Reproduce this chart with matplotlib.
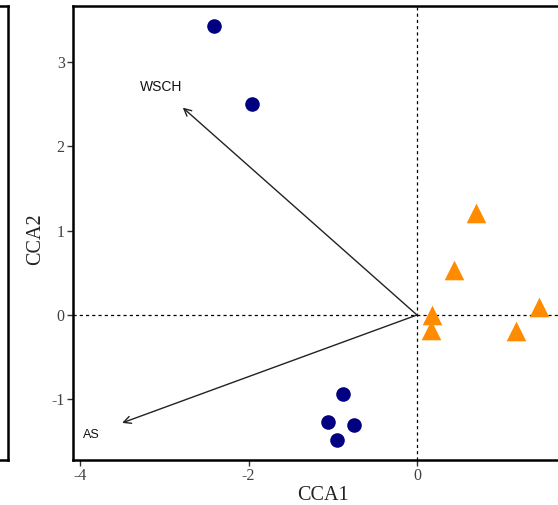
import matplotlib
matplotlib.use("Agg")
import matplotlib.pyplot as plt

# Site scores
blue_x = [-2.41, -1.96, -0.88, -1.06, -0.75, -0.95]
blue_y = [3.43, 2.50, -0.94, -1.27, -1.30, -1.48]
orange_x = [0.70, 0.44, 0.18, 0.17, 1.17, 1.45]
orange_y = [1.21, 0.53, 0.00, -0.18, -0.19, 0.09]

# Environmental arrows
env_names = ["WSCH", "AS"]
env_x = [-2.78, -3.50]
env_y = [2.46, -1.28]
label_x = [-3.04, -3.87]
label_y = [2.70, -1.42]
label_size = [10, 9]

xticks = [-4, -2, 0]
yticks = [-1, 0, 1, 2, 3]

W, H = 558, 505
fig = plt.figure(figsize=(W / 100, H / 100), dpi=100)

# remnant of neighbouring panel on the left
axl = fig.add_axes([-0.5, 1 - 460 / H, 0.5 + 8 / W, (460 - 6) / H])
axl.set_xticks([]); axl.set_yticks([])
for s in axl.spines.values():
    s.set_linewidth(1.8)

left = 73 / W
right = 590 / W
ax = fig.add_axes([left, 1 - 460 / H, right - left, (460 - 6) / H])
px_per_unit = 84.25
ax.set_xlim(-4 - 7 / px_per_unit, (590 - 417) / px_per_unit)
ax.set_ylim(-(460 - 315) / 84.3, (315 - 6) / 84.3)

ax.axhline(0, color="black", lw=0.9, ls=(0, (2.5, 2.5)), zorder=1)
ax.axvline(0, color="black", lw=0.9, ls=(0, (2.5, 2.5)), zorder=1)

for name, x, y, lx, ly, fs in zip(env_names, env_x, env_y, label_x, label_y, label_size):
    ax.annotate("", xy=(x, y), xytext=(0, 0),
                arrowprops=dict(arrowstyle="->", color="#222222", lw=1.0,
                                shrinkA=0, shrinkB=0, mutation_scale=13),
                zorder=2)
    ax.text(lx, ly, name, fontsize=fs, family="Liberation Sans", color="#111111",
            ha="center", va="center")

ax.scatter(blue_x, blue_y, s=110, color="#000080", marker="o", zorder=3,
           linewidths=0)
ax.scatter(orange_x, orange_y, s=200, color="#FF8C00", marker="^", zorder=3,
           linewidths=0)

ax.set_xticks(xticks)
ax.set_yticks(yticks)
ax.set_xticklabels([str(t) for t in xticks])
ax.set_yticklabels([str(t) for t in yticks])
ax.tick_params(direction="out", length=4, width=1, color="#333333",
               labelsize=11.5, labelcolor="#404040", pad=2)
for lab in ax.get_xticklabels() + ax.get_yticklabels():
    lab.set_family("Liberation Serif")

ax.set_xlabel("CCA1", family="Liberation Serif", fontsize=14.5,
              color="#222222")
ax.set_ylabel("CCA2", family="Liberation Serif", fontsize=14.5,
              color="#222222")
ax.xaxis.set_label_coords((323 - 73) / (590 - 73), -(495 - 460) / (460 - 6))
ax.yaxis.set_label_coords(-(73 - 36) / (590 - 73), (460 - 239) / (460 - 6))
ax.xaxis.label.set_va("center")
ax.yaxis.label.set_va("center")
for s in ax.spines.values():
    s.set_linewidth(1.8)

fig.savefig("out.png", dpi=100)
